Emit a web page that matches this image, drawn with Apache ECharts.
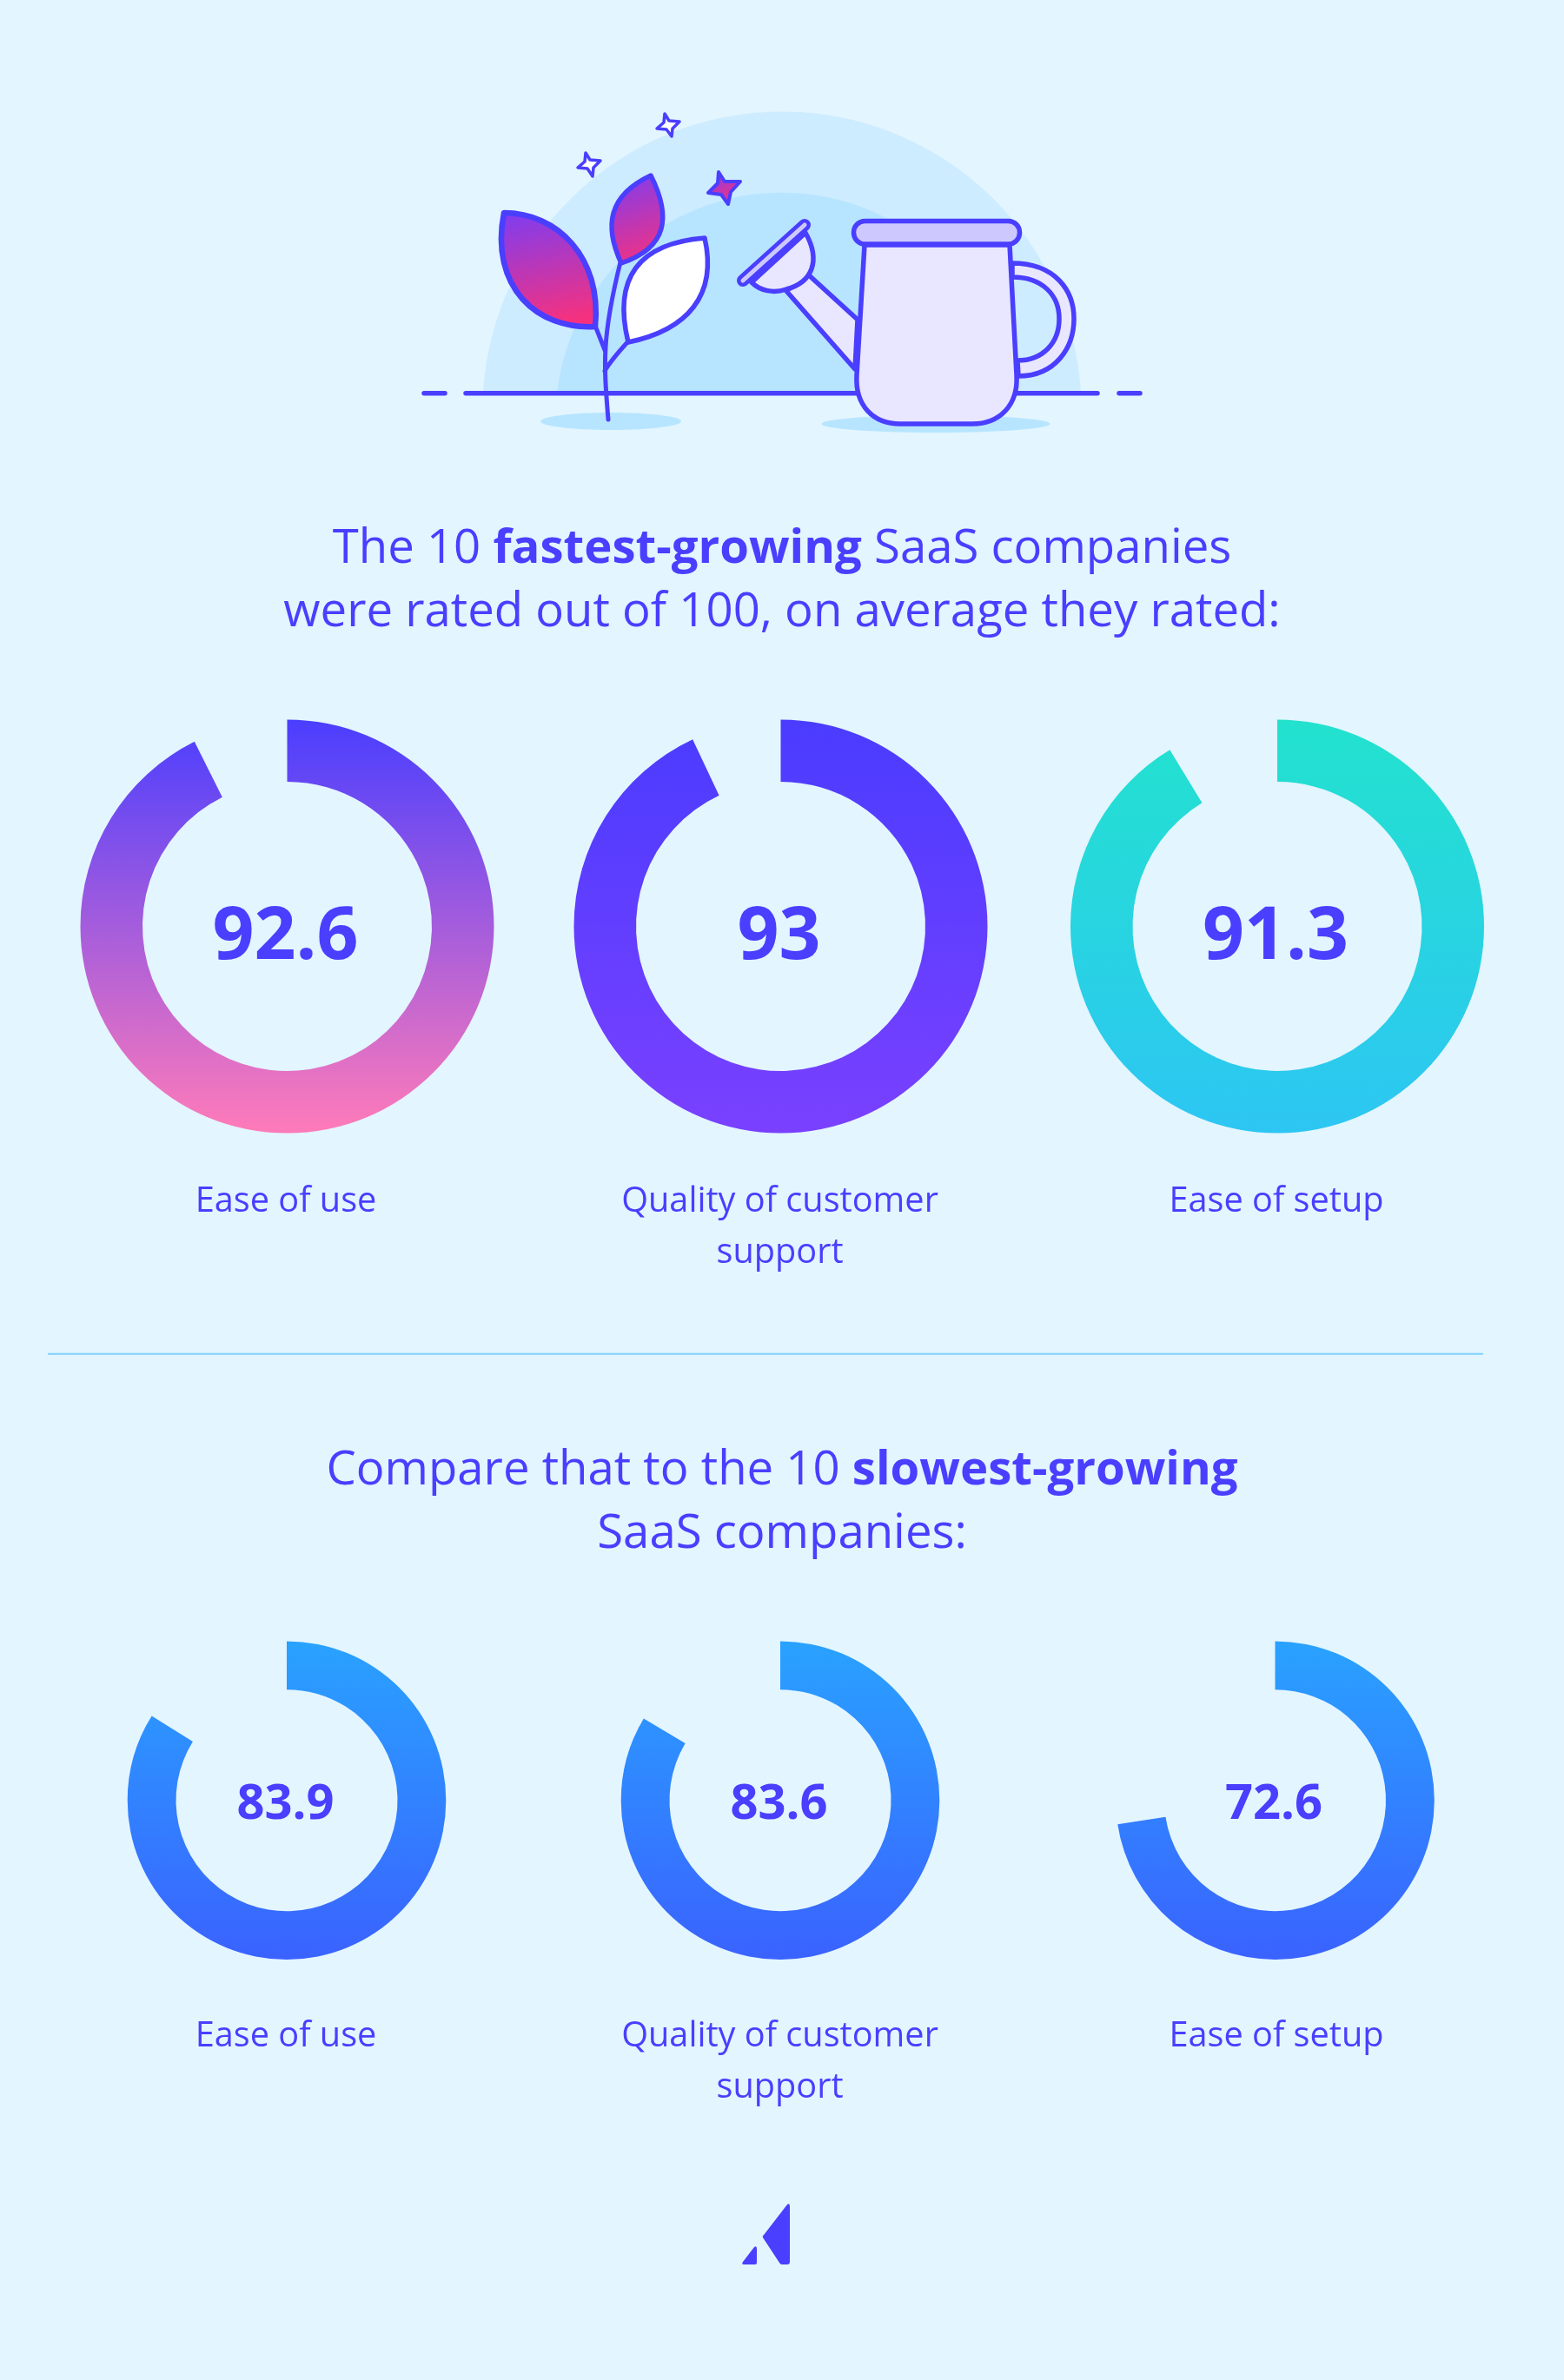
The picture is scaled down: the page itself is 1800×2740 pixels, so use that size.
<!DOCTYPE html>
<html lang="en">
<head>
  <meta charset="UTF-8">
  <title>SaaS ratings</title>
  <style>
    html, body { margin: 0; padding: 0; background: #e3f5ff; }
    #chart { width: 1800px; height: 2740px; }
  </style>
</head>
<body>
  <div id="chart"></div>
  <script src="https://cdn.jsdelivr.net/npm/echarts@6/dist/echarts.min.js"></script>
  <script>
    // values
    var categories = ['Ease of use', 'Quality of customer\nsupport', 'Ease of setup'];
    var fastValues = [92.6, 93, 91.3];
    var slowValues = [83.9, 83.6, 72.6];
    var fastLabels = ['92.6', '93', '91.3'];
    var slowLabels = ['83.9', '83.6', '72.6'];

    var ink = '#4a3eff';
    var font = '"Open Sans"';

    function grad(a, b, x2, y2) {
      return { type: 'linear', x: 0, y: 0, x2: x2 === undefined ? 0 : x2, y2: y2 === undefined ? 1 : y2,
        colorStops: [{ offset: 0, color: a }, { offset: 1, color: b }] };
    }

    var fastColors = [grad('#4a3eff', '#ff7bb9'), grad('#4a3cff', '#7a40ff'), grad('#22e2ce', '#2dc6f3')];
    var slowColors = [grad('#29a2ff', '#3a62ff'), grad('#29a2ff', '#3a62ff'), grad('#29a2ff', '#3a62ff')];

    function donut(value, color, cx, cy, r0, r1) {
      return {
        type: 'pie',
        silent: true,
        animation: false,
        startAngle: 90,
        center: [cx, cy],
        radius: [r0, r1],
        label: { show: false },
        labelLine: { show: false },
        data: [
          { value: value, itemStyle: { color: color } },
          { value: 100 - value, itemStyle: { color: 'transparent' } }
        ]
      };
    }

    // illustration, drawn in page pixels
    function line(d, w) {
      return { type: 'path', shape: { pathData: d },
        style: { fill: null, stroke: ink, lineWidth: w || 5.5, lineCap: 'round', lineJoin: 'round' } };
    }
    function shape(d, fill, w) {
      return { type: 'path', shape: { pathData: d },
        style: { fill: fill, stroke: ink, lineWidth: w || 5.5, lineCap: 'round', lineJoin: 'round' } };
    }
    function flat(d, fill) {
      return { type: 'path', shape: { pathData: d }, style: { fill: fill } };
    }

    var pinkLeaf = grad('#7a3df5', '#f5317f', 0.25, 1);
    var illustration = [
      flat('M556 452.7 A344.6 344.6 0 0 1 1244 452.7 Z', '#cdecff'),
      flat('M641 452.7 A260.7 260.7 0 0 1 1159 452.7 Z', '#b7e5ff'),
      { type: 'ellipse', shape: { cx: 703, cy: 485, rx: 81, ry: 10 }, style: { fill: '#b7e5ff' } },
      { type: 'ellipse', shape: { cx: 1077, cy: 488, rx: 131.5, ry: 10 }, style: { fill: '#b7e5ff' } },
      line('M536 452.7 L1263 452.7', 5.5),
      line('M488 452.7 L512 452.7', 5.5),
      line('M1288 452.7 L1312 452.7', 5.5),
      // plant
      line('M700 483 C695 420 692 390 714 302', 5),
      line('M685 375 L696 403', 5),
      line('M723 393 C712 405 703 415 696 427', 5),
      shape('M580 245 C641 245 693 296 685 376 C619 380 563 331 580 245 Z', pinkLeaf, 6.5),
      shape('M749 202 C773 250 768 285 715 303 C695 260 700 225 749 202 Z', grad('#7a3df5', '#f5317f', 0.6, 1)),
      shape('M811 274 C826 340 791 380 723 394 C705 320 735 280 811 274 Z', '#ffffff'),
      // sparkles
      shape('M765 131 L770 139 L782 140 L774 148 L773 157 L767 149 L756 148 L764 141 Z', '#ffffff', 3.5),
      shape('M674 176 L679 184 L691 185 L683 193 L682 203 L676 194 L665 193 L673 186 Z', '#ffffff', 3.5),
      shape('M827 198 L834 209 L852 209 L841 221 L838 235 L830 224 L815 222 L826 211 Z', grad('#7a3df5', '#f5317f', 0.6, 1), 4),
      // watering can
      shape('M1165 303 C1215 303 1236 335 1236 367 C1236 400 1215 433 1172 433 L1171 415 C1200 415 1219 395 1219 367 C1219 340 1200 319 1165 319 Z', '#e9e7ff'),
      shape('M930 316 L987 368 L984 425 L905 335 Z', '#e9e7ff'),
      shape('M927 268 C945 300 935 325 905 333 C890 338 875 335 865 325 Z', '#e9e7ff'),
      line('M855 323 L926 259', 14),
      { type: 'path', shape: { pathData: 'M855 323 L926 259' },
        style: { fill: null, stroke: '#cdc9ff', lineWidth: 5, lineCap: 'round' } },
      shape('M995 282 L986 432 C984 467 1005 488 1036 488 L1119 488 C1150 488 1172 467 1170 432 L1162 282 Z', '#e9e7ff'),
      { type: 'rect', shape: { x: 982.5, y: 254.5, width: 191, height: 26.5, r: 13 },
        style: { fill: '#cdc9ff', stroke: ink, lineWidth: 5.5 } },
      // divider and logo
      flat('M55 1557.7 L1707 1557.7 L1707 1559.7 L55 1559.7 Z', '#7fd0ff'),
      flat('M906 2538 Q909 2536 909 2540 L909 2604 Q909 2607 906 2607 L900 2607 Q898 2607 897 2605 L878 2576 Q877 2574 879 2573 Z', ink),
      flat('M868 2587 Q871 2585 871 2589 L871 2605 Q871 2607 869 2607 L856 2607 Q853 2607 855 2604 Z', ink)
    ];

    function text(str, x, y, size, weight, valign) {
      return { type: 'text', silent: true,
        style: { text: str, x: x, y: y, fill: ink, fontFamily: font, fontSize: size, fontWeight: weight || 400,
          align: 'center', verticalAlign: valign || 'middle', lineHeight: 59 } };
    }
    function heading(str, x, y) {
      return { type: 'text', silent: true,
        style: { text: str, x: x, y: y, align: 'center', verticalAlign: 'middle',
          rich: {
            n: { fontFamily: font, fontSize: 54.5, fill: ink, color: ink, fontWeight: 400 },
            b: { fontFamily: font, fontSize: 54.5, fill: ink, color: ink, fontWeight: 700 }
          } } };
    }

    var colX = [330.5, 898.5, 1470];
    var slowX = [330, 898, 1467.5];
    var labelX = [329, 897.5, 1469];
    var series = [{
      type: 'custom',
      coordinateSystem: 'none',
      silent: true,
      animation: false,
      data: [0],
      renderItem: function () { return { type: 'group', children: illustration }; }
    }];
    var graphicEls = [
      heading('{n|The 10 }{b|fastest-growing}{n| SaaS companies}', 900, 632),
      heading('{n|were rated out of 100, on average they rated:}', 900, 705),
      heading('{n|Compare that to the 10 }{b|slowest-growing}', 900, 1693),
      heading('{n|SaaS companies:}', 900, 1766)
    ];
    fastValues.forEach(function (v, i) {
      series.push(donut(v, fastColors[i], colX[i], 1066.5, 166.5, 238));
      graphicEls.push(text(fastLabels[i], colX[i] - 2, 1080, 84, 700));
      graphicEls.push(text(categories[i], labelX[i], 1354, 39.7, 400, 'top'));
    });
    slowValues.forEach(function (v, i) {
      series.push(donut(v, slowColors[i], slowX[i], 2072.7, 127.5, 183.3));
      graphicEls.push(text(slowLabels[i], slowX[i] - 1.5, 2078, 56, 700));
      graphicEls.push(text(categories[i], labelX[i], 2315, 39.7, 400, 'top'));
    });

    var myChart = echarts.init(document.getElementById('chart'));
    myChart.setOption({
      backgroundColor: '#e3f5ff',
      animation: false,
      series: series,
      graphic: { elements: graphicEls }
    });
  </script>
</body>
</html>
